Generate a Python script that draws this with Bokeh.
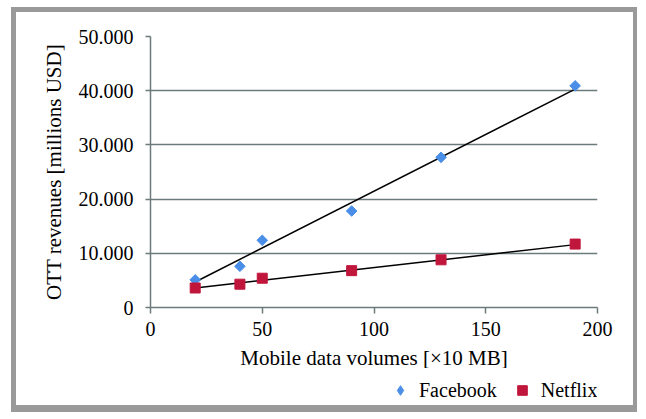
import math
from bokeh.plotting import figure
from bokeh.layouts import column
from bokeh.models import Range1d, FixedTicker, Legend, LegendItem
from bokeh.embed import file_html
from bokeh.resources import INLINE

# Data
volumes = [20, 40, 50, 90, 130, 190]
facebook = [5100, 7600, 12400, 17800, 27700, 40900]
netflix = [3600, 4300, 5400, 6800, 8800, 11700]

trend_x = [20, 190]
facebook_trend = [4700, 40300]
netflix_trend = [3600, 11600]

x_ticks = [0, 50, 100, 150, 200]
y_ticks = [0, 10000, 20000, 30000, 40000, 50000]
y_tick_labels = ["0", "10.000", "20.000", "30.000", "40.000", "50.000"]

FONT = "Liberation Serif"
GRID = "#6b7b7b"
BORDER = "#9a9a9a"
FB_COLOR = "#4a8ee8"
NF_COLOR = "#c0163c"

# ---------------- main chart ----------------
p = figure(width=626, height=361, output_backend="svg", toolbar_location=None,
           x_range=Range1d(0, 200), y_range=Range1d(0, 50000),
           min_border_left=134, min_border_right=45, min_border_top=24,
           min_border_bottom=66,
           styles={"border-top": f"5px solid {BORDER}",
                   "border-left": f"5px solid {BORDER}",
                   "border-right": f"4px solid {BORDER}"})
p.outline_line_color = None
p.background_fill_color = "white"
p.border_fill_color = "white"

p.xgrid.visible = False
p.ygrid.ticker = FixedTicker(ticks=y_ticks)
p.ygrid.grid_line_color = GRID
p.ygrid.grid_line_width = 1.5

p.xaxis.ticker = FixedTicker(ticks=x_ticks)
p.yaxis.ticker = FixedTicker(ticks=y_ticks)
p.yaxis.major_label_overrides = {t: l for t, l in zip(y_ticks, y_tick_labels)}
for ax in (p.xaxis[0], p.yaxis[0]):
    ax.axis_line_color = GRID
    ax.axis_line_width = 1.5
    ax.major_tick_line_color = GRID
    ax.major_tick_line_width = 1.5
    ax.major_tick_in = 0
    ax.minor_tick_line_color = None
    ax.major_label_text_font = FONT
    ax.major_label_text_font_size = "20px"
    ax.major_label_text_color = "black"
    ax.axis_label_text_font = FONT
    ax.axis_label_text_font_size = "21px"
    ax.axis_label_text_font_style = "normal"
    ax.axis_label_text_color = "black"

p.xaxis.major_tick_out = 6
p.yaxis.major_tick_out = 5
p.xaxis.major_label_standoff = 8
p.yaxis.major_label_standoff = 12
p.xaxis.axis_label = "Mobile data volumes [×10 MB]"
p.yaxis.axis_label = "OTT revenues [millions USD]"
p.xaxis.axis_label_standoff = 7
p.yaxis.axis_label_standoff = 10

# Trend lines
p.line(trend_x, facebook_trend, line_color="black", line_width=1.5)
p.line(trend_x, netflix_trend, line_color="black", line_width=1.5)

# Markers
p.scatter(volumes, facebook, marker="square", angle=math.pi / 4, size=7.5,
          fill_color=FB_COLOR, line_color=FB_COLOR)
p.scatter(volumes, netflix, marker="square", size=10,
          fill_color=NF_COLOR, line_color=NF_COLOR)

# ---------------- legend strip ----------------
lf = figure(width=626, height=44, output_backend="svg", toolbar_location=None,
            x_range=Range1d(0, 1), y_range=Range1d(0, 1),
            x_axis_type=None, y_axis_type=None,
            min_border_left=0, min_border_right=0, min_border_top=0,
            min_border_bottom=0,
            styles={"border-bottom": f"7px solid {BORDER}",
                    "border-left": f"5px solid {BORDER}",
                    "border-right": f"4px solid {BORDER}"})
lf.outline_line_color = None
lf.background_fill_color = "white"
lf.border_fill_color = "white"

fb_key = lf.scatter(volumes, facebook, marker="diamond", visible=False,
                    fill_color=FB_COLOR, line_color=FB_COLOR)
nf_key = lf.scatter(volumes, netflix, marker="square", visible=False,
                    fill_color=NF_COLOR, line_color=NF_COLOR)

legend = Legend(items=[LegendItem(label="Facebook", renderers=[fb_key]),
                       LegendItem(label="Netflix", renderers=[nf_key])],
                orientation="horizontal", location="left",
                border_line_color=None, background_fill_alpha=0,
                label_text_font=FONT, label_text_font_size="20px",
                label_text_color="black",
                glyph_width=24, glyph_height=24, spacing=13, label_standoff=7,
                margin=238, padding=4)
lf.add_layout(legend, "center")

layout = column(p, lf, spacing=0,
                styles={"margin-left": "11px", "margin-top": "7px"})

open("out.html", "w").write(file_html(layout, INLINE))
